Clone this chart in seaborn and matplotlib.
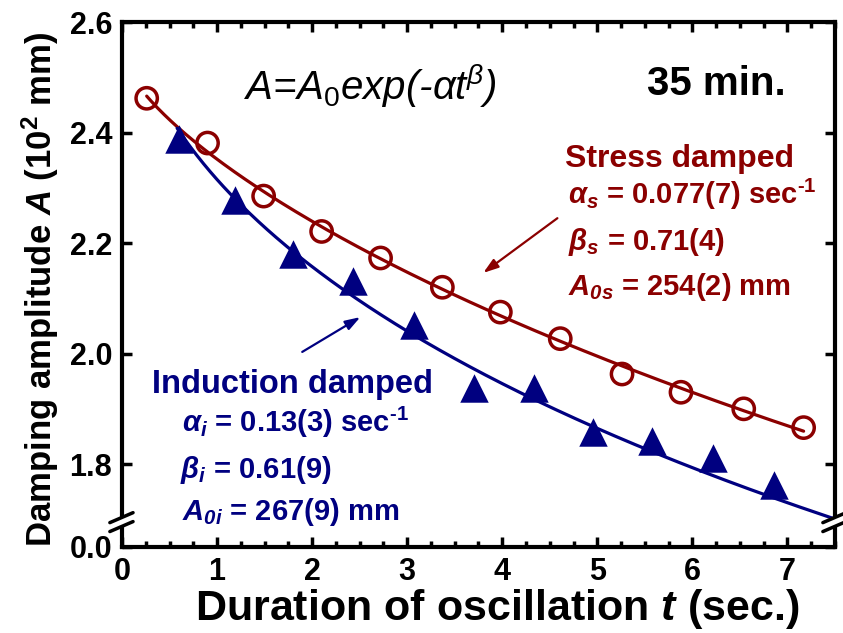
import numpy as np
import pandas as pd
import matplotlib
matplotlib.use("Agg")
import matplotlib.pyplot as plt
from matplotlib.ticker import MultipleLocator, NullLocator, FixedLocator
from matplotlib.patches import Polygon
from matplotlib.lines import Line2D
import seaborn as sns

# ---------------- data ----------------
t_stress = [0.26, 0.90, 1.49, 2.10, 2.72, 3.37, 3.98, 4.61, 5.26, 5.88, 6.54, 7.17]
A_stress = [2.462, 2.381, 2.285, 2.221, 2.173, 2.120, 2.075, 2.027, 1.963, 1.930, 1.900, 1.866]
t_induct = [0.60, 1.19, 1.80, 2.43, 3.07, 3.70, 4.33, 4.95, 5.58, 6.22, 6.86]
A_induct = [2.388, 2.278, 2.180, 2.131, 2.052, 1.938, 1.937, 1.858, 1.842, 1.811, 1.762]

# fitted model A = A0 exp(-alpha t^beta)  (curve parameters as drawn)
fit_stress = dict(A0=2.54, alpha=0.077, beta=0.71, t0=0.26, t1=7.17)
fit_induct = dict(A0=2.695, alpha=0.152, beta=0.55, t0=0.58, t1=7.5)

x_ticks = [0, 1, 2, 3, 4, 5, 6, 7]
y_ticks = [1.65, 1.8, 2.0, 2.2, 2.4, 2.6]
y_tick_labels = ["0.0", "1.8", "2.0", "2.2", "2.4", "2.6"]

RED = "#8B0000"
BLUE = "#000080"

sns.set_style("ticks")
plt.rcParams["font.family"] = ["Liberation Sans", "DejaVu Sans"]
plt.rcParams["mathtext.fontset"] = "custom"
plt.rcParams["mathtext.rm"] = "Liberation Sans"
plt.rcParams["mathtext.it"] = "Liberation Sans:italic"
plt.rcParams["mathtext.bf"] = "Liberation Sans:bold"
plt.rcParams["mathtext.bfit"] = "Liberation Sans:italic:bold"
for k in ["text.color", "axes.labelcolor", "xtick.color", "ytick.color",
          "axes.edgecolor", "xtick.labelcolor", "ytick.labelcolor"]:
    plt.rcParams[k] = "black"

fig = plt.figure(figsize=(8.43, 6.33), dpi=100)
ax = fig.add_axes([0.1447, 0.1359, 0.8458, 0.8293])


def model(p):
    tt = np.linspace(p["t0"], p["t1"], 300)
    return tt, p["A0"] * np.exp(-p["alpha"] * tt ** p["beta"])


ts, As = model(fit_stress)
ti, Ai = model(fit_induct)
sns.lineplot(x=ts, y=As, ax=ax, color=RED, lw=2.3, zorder=2)
sns.lineplot(x=ti, y=Ai, ax=ax, color=BLUE, lw=2.3, zorder=2)

sns.scatterplot(x=t_stress, y=A_stress, ax=ax, marker="o", s=235,
                facecolor="none", edgecolor=RED, linewidth=2.5, zorder=3)
sns.scatterplot(x=t_induct, y=A_induct, ax=ax, marker="^", s=420,
                color=BLUE, edgecolor=BLUE, linewidth=0, zorder=3)

ax.set_xlim(0, 7.5)
ax.set_ylim(1.65, 2.6)
ax.xaxis.set_major_locator(FixedLocator(x_ticks))
ax.xaxis.set_minor_locator(MultipleLocator(0.25))
ax.yaxis.set_major_locator(FixedLocator(y_ticks))
ax.yaxis.set_minor_locator(NullLocator())
ax.set_xticklabels([str(v) for v in x_ticks])
ax.set_yticklabels(y_tick_labels)

for s in ax.spines.values():
    s.set_linewidth(3)
    s.set_color("black")
    s.set_visible(True)
ax.tick_params(which="both", direction="in", top=True, right=True,
               labelsize=22, width=2.5, colors="black")
ax.tick_params(which="major", length=7, pad=7)
ax.tick_params(which="minor", length=4)
for lab in ax.get_xticklabels() + ax.get_yticklabels():
    lab.set_fontweight("bold")

ax.set_xlabel(r"Duration of oscillation $\mathbfit{t}$ (sec.)",
              fontsize=31, fontweight="bold", labelpad=0, color="black")
ax.xaxis.label.set_x(0.526)
ax.set_ylabel(r"Damping amplitude $\mathbfit{A}$ (10$^{\mathbf{2}}$ mm)",
              fontsize=25, fontweight="bold", labelpad=6, color="black")
ax.yaxis.label.set_y(0.49)

# axis break marks
def brk(xa, yc):
    dx_l, dx_r, dy, gap = -0.017, 0.0155, 0.0095, 0.0085
    y1, y2 = yc + gap, yc - gap
    poly = Polygon([[xa + dx_l, y1 - dy], [xa + dx_r, y1 + dy],
                    [xa + dx_r, y2 + dy], [xa + dx_l, y2 - dy]],
                   closed=True, transform=ax.transAxes, facecolor="white",
                   edgecolor="none", clip_on=False, zorder=10)
    ax.add_patch(poly)
    for yy in (y1, y2):
        ax.add_line(Line2D([xa + dx_l, xa + dx_r], [yy - dy, yy + dy],
                           transform=ax.transAxes, color="black", lw=2.5,
                           clip_on=False, zorder=11))

ybrk = (1.695 - 1.65) / (2.6 - 1.65)
brk(0.0, ybrk)
brk(1.0, ybrk)

HY = "\u2010"  # short hyphen for the -1 exponent

# annotations
ax.text(1.28, 2.459, r"A=A$_{\mathit{0}}$exp(-$\alpha$t$^{\beta}$)",
        fontsize=29, fontstyle="italic", color="black", ha="left", va="baseline")
ax.text(6.98, 2.468, "35 min.", fontsize=29, fontweight="bold",
        ha="right", va="baseline", color="black")

ax.text(4.66, 2.338, "Stress damped", fontsize=23, fontweight="bold",
        color=RED, ha="left", va="baseline")
ax.text(4.69, 2.271, r"$\mathbfit{\alpha}_{\mathbfit{s}}$ = 0.077(7) sec$^{\mathbf{" + HY + r"1}}$",
        fontsize=21, fontweight="bold", color=RED, ha="left", va="baseline")
ax.text(4.69, 2.187, r"$\mathbfit{\beta}_{\mathbfit{s}}$ = 0.71(4)",
        fontsize=21, fontweight="bold", color=RED, ha="left", va="baseline")
ax.text(4.69, 2.106, r"$\mathbfit{A}_{\mathbfit{0s}}$ = 254(2) mm",
        fontsize=21, fontweight="bold", color=RED, ha="left", va="baseline")

ax.text(0.316, 1.9285, "Induction damped", fontsize=23.5, fontweight="bold",
        color=BLUE, ha="left", va="baseline")
ax.text(0.632, 1.858, r"$\mathbfit{\alpha}_{\mathbfit{i}}$ = 0.13(3) sec$^{\mathbf{" + HY + r"1}}$",
        fontsize=21, fontweight="bold", color=BLUE, ha="left", va="baseline")
ax.text(0.61, 1.775, r"$\mathbfit{\beta}_{\mathbfit{i}}$ = 0.61(9)",
        fontsize=21, fontweight="bold", color=BLUE, ha="left", va="baseline")
ax.text(0.632, 1.699, r"$\mathbfit{A}_{\mathbfit{0i}}$ = 267(9) mm",
        fontsize=21, fontweight="bold", color=BLUE, ha="left", va="baseline")

ax.annotate("", xy=(3.80, 2.146), xytext=(4.58, 2.245),
            arrowprops=dict(arrowstyle="-|>,head_length=0.9,head_width=0.3",
                            color=RED, lw=1.6, shrinkA=0, shrinkB=0))
ax.annotate("", xy=(2.507, 2.066), xytext=(1.896, 2.003),
            arrowprops=dict(arrowstyle="-|>,head_length=0.9,head_width=0.3",
                            color=BLUE, lw=1.6, shrinkA=0, shrinkB=0))

fig.savefig("out.png", dpi=100)
